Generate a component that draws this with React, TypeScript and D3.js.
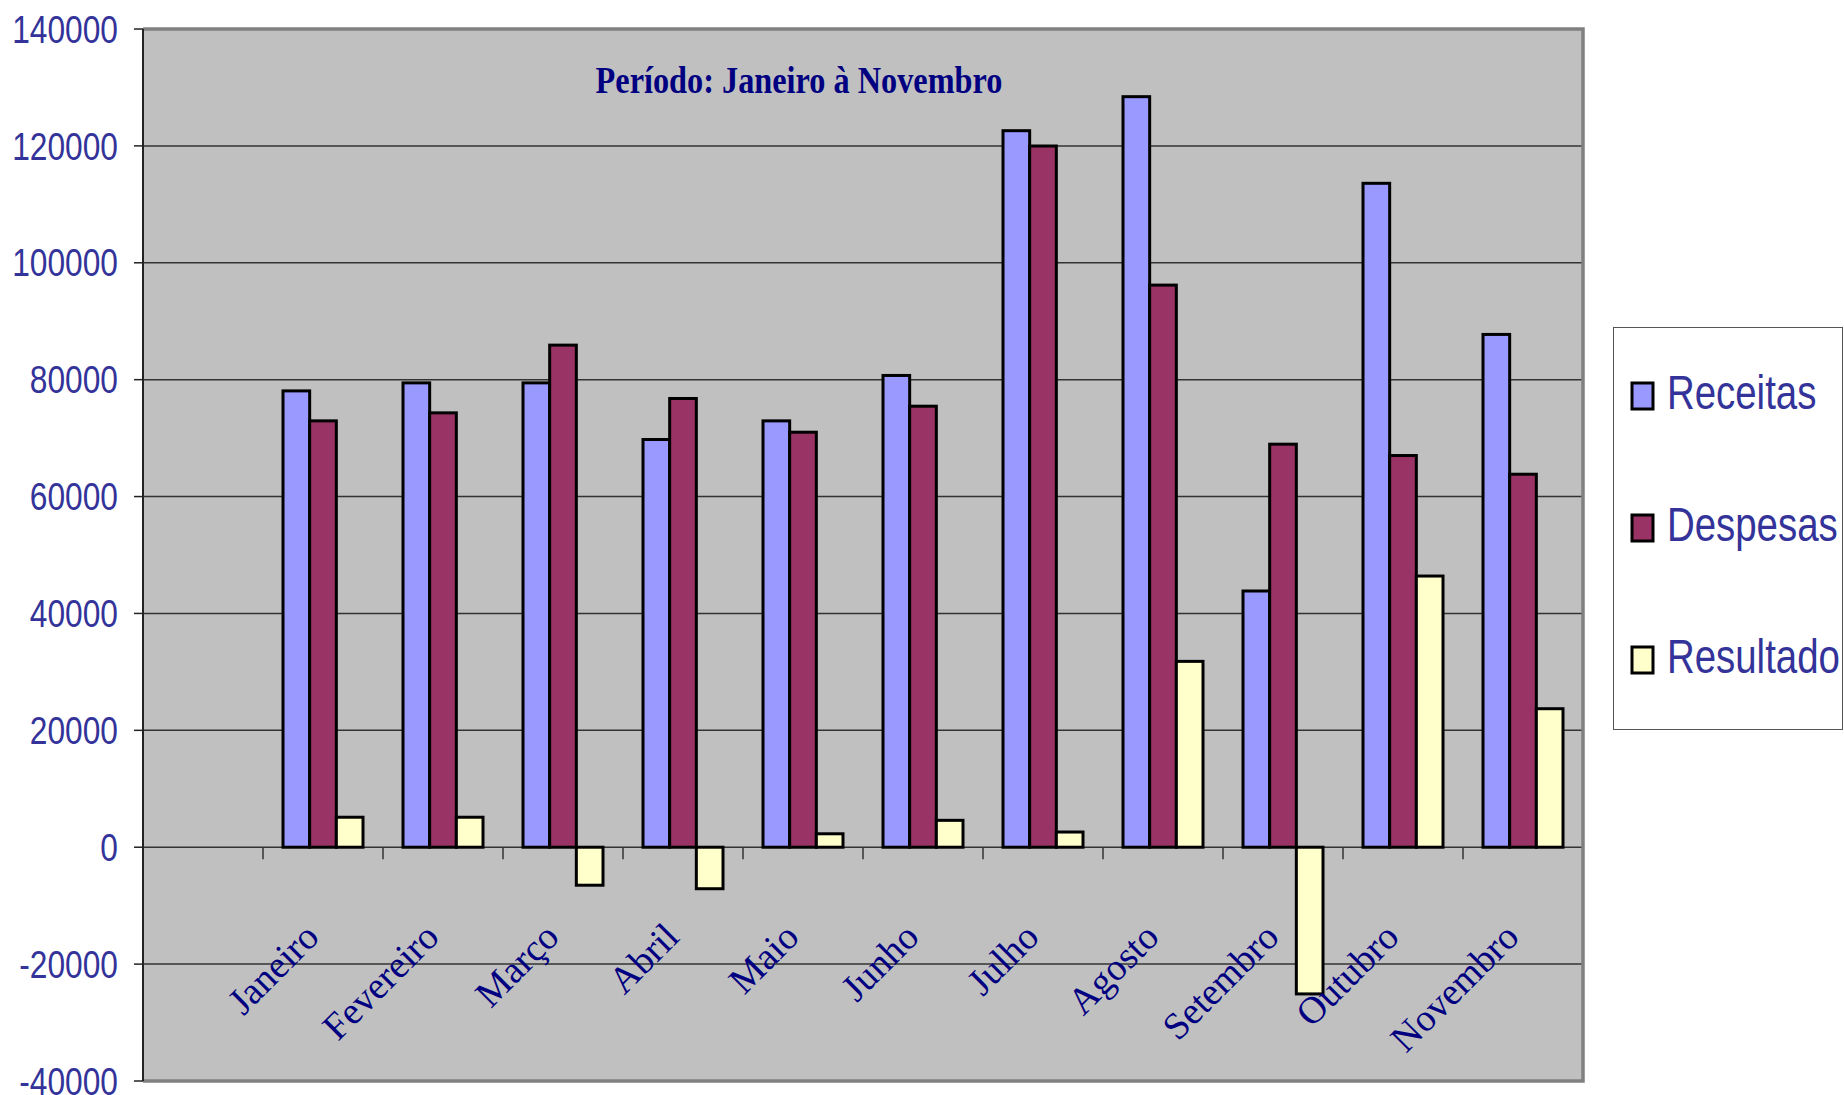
import * as React from "react";
import * as d3 from "d3";

// monthly values
const months = [
  "Janeiro",
  "Fevereiro",
  "Março",
  "Abril",
  "Maio",
  "Junho",
  "Julho",
  "Agosto",
  "Setembro",
  "Outubro",
  "Novembro",
];
const receitas = [78080, 79450, 79450, 69760, 72950, 80720, 122600, 128420, 43840, 113600, 87740];
const despesas = [72950, 74320, 85910, 76780, 71010, 75460, 119980, 96180, 68960, 67020, 63820];
const resultado = [5130, 5130, -6500, -7100, 2300, 4600, 2600, 31800, -25100, 46400, 23700];
const seriesNames = ["Receitas", "Despesas", "Resultado"];
const yTicks = [-40000, -20000, 0, 20000, 40000, 60000, 80000, 100000, 120000, 140000];

const colors = ["#9999FF", "#993366", "#FFFFCC"];

function drawChart(svgRef) {
  const svg = d3.select(svgRef.current);
  svg.selectAll("*").remove();

  const left = 143;
  const right = 1583;
  const top = 29;
  const bottom = 1081;

  // first slot of the category axis is empty in the original
  const x = d3
    .scaleBand()
    .domain(["", ...months])
    .range([left, right]);

  const xs = d3
    .scaleBand()
    .domain(seriesNames)
    .range([0, x.bandwidth()])
    .paddingOuter(0.75);

  const y = d3.scaleLinear().domain([-40000, 140000]).range([bottom, top]);

  // plot area
  svg
    .append("rect")
    .attr("x", left)
    .attr("y", top)
    .attr("width", right - left)
    .attr("height", bottom - top)
    .attr("fill", "#C0C0C0");

  // gridlines
  svg
    .append("g")
    .selectAll("line")
    .data(yTicks.filter((t) => t !== 140000 && t !== -40000))
    .enter()
    .append("line")
    .attr("x1", left)
    .attr("x2", right)
    .attr("y1", (d) => y(d))
    .attr("y2", (d) => y(d))
    .attr("stroke", "#333")
    .attr("stroke-width", 1.5);

  // frame (gray top/right/bottom)
  svg
    .append("path")
    .attr("d", `M${left},${top}H${right}V${bottom}H${left}`)
    .attr("fill", "none")
    .attr("stroke", "#808080")
    .attr("stroke-width", 3.5);

  // category ticks below zero line
  svg
    .append("g")
    .selectAll("line")
    .data(months)
    .enter()
    .append("line")
    .attr("x1", (d) => x(d))
    .attr("x2", (d) => x(d))
    .attr("y1", y(0))
    .attr("y2", y(0) + 12)
    .attr("stroke", "#333")
    .attr("stroke-width", 1.5);

  // bars
  const table = months.map((m, i) => ({
    month: m,
    values: [receitas[i], despesas[i], resultado[i]],
  }));

  const groups = svg
    .append("g")
    .selectAll("g")
    .data(table)
    .enter()
    .append("g")
    .attr("transform", (d) => `translate(${x(d.month)},0)`);

  groups
    .selectAll("rect")
    .data((d) => d.values.map((v, k) => ({ key: seriesNames[k], value: v, k })))
    .enter()
    .append("rect")
    .attr("x", (d) => xs(d.key))
    .attr("width", xs.bandwidth())
    .attr("y", (d) => y(Math.max(0, d.value)))
    .attr("height", (d) => Math.abs(y(d.value) - y(0)))
    .attr("fill", (d) => colors[d.k])
    .attr("stroke", "#000")
    .attr("stroke-width", 3);

  // y axis line + ticks
  svg
    .append("line")
    .attr("x1", left)
    .attr("x2", left)
    .attr("y1", top)
    .attr("y2", bottom)
    .attr("stroke", "#222")
    .attr("stroke-width", 2);

  const yTickG = svg
    .append("g")
    .selectAll("g")
    .data(yTicks)
    .enter()
    .append("g")
    .attr("transform", (d) => `translate(${left},${y(d)})`);

  yTickG
    .append("line")
    .attr("x1", -9)
    .attr("x2", 0)
    .attr("stroke", "#222")
    .attr("stroke-width", 1.5);

  yTickG
    .append("text")
    .attr("transform", "translate(-25,0) scale(0.835,1)")
    .attr("text-anchor", "end")
    .attr("dy", "0.36em")
    .attr("font-family", "'Liberation Sans', Arial, sans-serif")
    .attr("font-size", 38)
    .attr("fill", "#333399")
    .text((d) => d);

  // category labels, rotated
  svg
    .append("g")
    .selectAll("text")
    .data(months)
    .enter()
    .append("text")
    .attr(
      "transform",
      (d) => `translate(${x(d) + x.bandwidth() / 2 - 2},${939}) rotate(-45)`
    )
    .attr("text-anchor", "end")
    .attr("font-family", "'Liberation Serif', 'Times New Roman', serif")
    .attr("font-size", 38)
    .attr("fill", "#000080")
    .text((d) => d);

  // title
  svg
    .append("text")
    .attr("transform", "translate(799,93) scale(0.85,1)")
    .attr("text-anchor", "middle")
    .attr("font-family", "'Liberation Serif', 'Times New Roman', serif")
    .attr("font-weight", "bold")
    .attr("font-size", 38)
    .attr("fill", "#000080")
    .text("Período: Janeiro à Novembro");

  // legend
  const legend = svg.append("g");
  legend
    .append("rect")
    .attr("x", 1613.5)
    .attr("y", 327.5)
    .attr("width", 229)
    .attr("height", 402)
    .attr("fill", "#fff")
    .attr("stroke", "#555")
    .attr("stroke-width", 1);

  const legendY = d3.scalePoint().domain(seriesNames).range([396, 660]);

  const item = legend
    .selectAll("g")
    .data(seriesNames)
    .enter()
    .append("g")
    .attr("transform", (d) => `translate(0,${legendY(d)})`);

  item
    .append("rect")
    .attr("x", 1632)
    .attr("y", -13)
    .attr("width", 21)
    .attr("height", 26)
    .attr("fill", (d, i) => colors[i])
    .attr("stroke", "#000")
    .attr("stroke-width", 3);

  item
    .append("text")
    .attr("transform", "translate(1667,13) scale(0.8,1)")
    .attr("font-family", "'Liberation Sans', Arial, sans-serif")
    .attr("font-size", 48)
    .attr("fill", "#333399")
    .text((d) => d);
}

const App = () => {
  const svg = React.useRef(null);
  React.useEffect(() => {
    drawChart(svg);
  }, [svg]);

  return (
    <svg
      ref={svg}
      width={1844}
      height={1095}
      style={{ position: "absolute", left: 0, top: 0, background: "#fff" }}
    />
  );
};

export default App;
